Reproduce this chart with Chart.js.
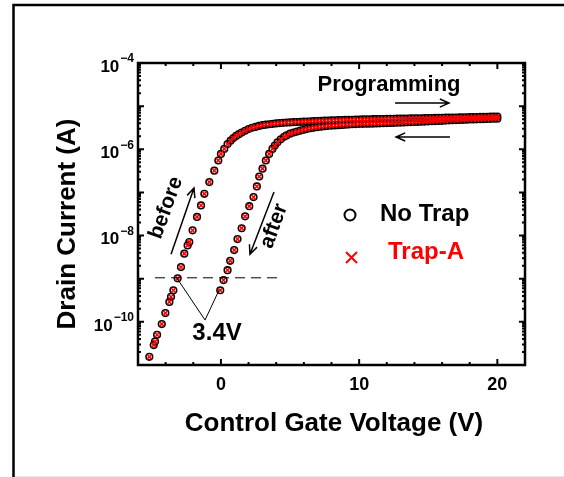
<!DOCTYPE html>
<html>
<head>
<meta charset="utf-8">
<script src="https://cdn.jsdelivr.net/npm/chart.js@4.4.1/dist/chart.umd.min.js"></script>
<style>
  html, body { margin: 0; padding: 0; background: #fff; }
  canvas { display: block; }
</style>
</head>
<body>
<canvas id="chart" width="564" height="477"></canvas>
<script>
// forward sweep, before programming (gate voltage V, drain current A)
const vBefore = [
  -5.18, -4.86, -4.77, -4.62, -4.28, -4.02, -3.73, -3.61, -3.44, -3.13,
  -2.89, -2.65, -2.41, -2.29, -2.05, -1.73, -1.44, -1.20, -0.84, -0.48,
  -0.19, 0.00, 0.24, 0.48, 0.70, 0.90, 1.10, 1.30, 1.50, 1.75,
  2.00, 2.25, 2.50, 2.75, 3.00, 3.25, 3.50, 3.75,
  4.00, 4.25, 4.50, 4.75, 5.00, 5.25, 5.50, 5.75, 6.00, 6.25, 6.50, 6.75,
  7.00, 7.25, 7.50, 7.75, 8.00, 8.25, 8.50, 8.75, 9.00, 9.25, 9.50, 9.75,
  10.00, 10.25, 10.50, 10.75, 11.00, 11.25, 11.50, 11.75, 12.00, 12.25, 12.50, 12.75,
  13.00, 13.25, 13.50, 13.75, 14.00, 14.25, 14.50, 14.75, 15.00, 15.25, 15.50, 15.75,
  16.00, 16.25, 16.50, 16.75, 17.00, 17.25, 17.50, 17.75, 18.00, 18.25, 18.50, 18.75,
  19.00, 19.25, 19.50, 19.75, 20.00
];
const iBefore = [
  1.55e-11, 2.9e-11, 3.5e-11, 5.0e-11, 8.9e-11, 1.6e-10, 2.9e-10, 3.8e-10, 5.4e-10, 1.02e-9,
  1.86e-9, 3.8e-9, 5.9e-9, 7.1e-9, 1.32e-8, 2.7e-8, 5.0e-8, 9.3e-8, 1.74e-7, 3.2e-7,
  5.5e-7, 7.8e-7, 1.02e-6, 1.32e-6, 1.58e-6, 1.82e-6, 2.04e-6, 2.24e-6, 2.45e-6, 2.69e-6,
  2.95e-6, 3.16e-6, 3.30e-6, 3.47e-6, 3.63e-6, 3.72e-6, 3.80e-6, 3.90e-6,
  3.98e-6, 4.05e-6, 4.10e-6, 4.16e-6, 4.20e-6, 4.25e-6, 4.29e-6, 4.33e-6, 4.37e-6, 4.41e-6, 4.45e-6, 4.49e-6,
  4.53e-6, 4.57e-6, 4.60e-6, 4.64e-6, 4.67e-6, 4.70e-6, 4.73e-6, 4.76e-6, 4.79e-6, 4.82e-6, 4.84e-6, 4.87e-6,
  4.90e-6, 4.92e-6, 4.94e-6, 4.96e-6, 4.98e-6, 5.00e-6, 5.02e-6, 5.04e-6, 5.06e-6, 5.08e-6, 5.10e-6, 5.11e-6,
  5.13e-6, 5.15e-6, 5.17e-6, 5.19e-6, 5.21e-6, 5.22e-6, 5.24e-6, 5.26e-6, 5.28e-6, 5.30e-6, 5.32e-6, 5.35e-6,
  5.37e-6, 5.39e-6, 5.41e-6, 5.43e-6, 5.46e-6, 5.48e-6, 5.50e-6, 5.52e-6, 5.55e-6, 5.57e-6, 5.59e-6, 5.62e-6,
  5.64e-6, 5.66e-6, 5.69e-6, 5.72e-6, 5.75e-6
];

// reverse sweep, after programming
const vAfter = [
  20.00, 19.75, 19.50, 19.25, 19.00, 18.75, 18.50, 18.25, 18.00, 17.75, 17.50, 17.25,
  17.00, 16.75, 16.50, 16.25, 16.00, 15.75, 15.50, 15.25, 15.00, 14.75, 14.50, 14.25,
  14.00, 13.75, 13.50, 13.25, 13.00, 12.75, 12.50, 12.25, 12.00, 11.75, 11.50, 11.25,
  11.00, 10.75, 10.50, 10.25, 10.00, 9.75, 9.50, 9.25, 9.00, 8.75, 8.50, 8.25,
  8.00, 7.75, 7.50, 7.25, 7.00, 6.75, 6.50, 6.25, 6.00, 5.75, 5.50, 5.25, 5.00,
  4.75, 4.57, 4.33, 4.09, 3.90, 3.73, 3.49, 3.25, 3.01, 2.77, 2.60, 2.36,
  2.05, 1.75, 1.50, 1.20, 0.96, 0.67, 0.48, 0.19, -0.05
];
const iAfter = [
  5.13e-6, 5.10e-6, 5.07e-6, 5.04e-6, 5.02e-6, 4.99e-6, 4.96e-6, 4.93e-6, 4.90e-6, 4.86e-6, 4.83e-6, 4.80e-6,
  4.76e-6, 4.73e-6, 4.70e-6, 4.63e-6, 4.57e-6, 4.54e-6, 4.50e-6, 4.47e-6, 4.44e-6, 4.40e-6, 4.37e-6, 4.33e-6,
  4.30e-6, 4.27e-6, 4.23e-6, 4.20e-6, 4.17e-6, 4.14e-6, 4.11e-6, 4.08e-6, 4.05e-6, 4.02e-6, 4.00e-6, 3.97e-6,
  3.95e-6, 3.93e-6, 3.91e-6, 3.90e-6, 3.89e-6, 3.85e-6, 3.80e-6, 3.75e-6, 3.70e-6, 3.66e-6, 3.62e-6, 3.58e-6,
  3.55e-6, 3.49e-6, 3.42e-6, 3.35e-6, 3.28e-6, 3.18e-6, 3.09e-6, 2.98e-6, 2.85e-6, 2.72e-6, 2.58e-6, 2.45e-6, 2.30e-6,
  2.10e-6, 1.95e-6, 1.70e-6, 1.45e-6, 1.22e-6, 1.02e-6, 7.8e-7, 5.5e-7, 3.55e-7, 2.34e-7, 1.38e-7, 7.8e-8,
  4.8e-8, 2.8e-8, 1.48e-8, 8.3e-9, 4.6e-9, 2.6e-9, 1.58e-9, 9.3e-10, 5.4e-10
];

// Vth read-off guide: dashed level and the "V" pointer
const guideV = [-4.77, 4.06];
const guideI = [1.05e-9, 1.05e-9];
const pointerV = [-3.2, -1.15, -0.12];
const pointerI = [1.05e-9, 1.1e-10, 5.6e-10];

const xTickLabels = [0, 10, 20];
const yDecades = [1e-11, 1e-10, 1e-9, 1e-8, 1e-7, 1e-6, 1e-5, 1e-4];
const yLabelValues = [1e-4, 1e-6, 1e-8, 1e-10];
const yLabelExps = ["\u22124", "\u22126", "\u22128", "\u221210"];
const seriesNames = ["No Trap", "Trap-A"];

const FONT = '"Liberation Sans", Arial, Helvetica, sans-serif';
const RED = "#ff0000";

const pts = (xs, ys) => xs.map((x, i) => ({ x: x, y: ys[i] }));

const arrow = (ctx, x1, y1, x2, y2) => {
  const a = Math.atan2(y2 - y1, x2 - x1);
  const h = 10;
  ctx.beginPath();
  ctx.moveTo(x1, y1);
  ctx.lineTo(x2, y2);
  ctx.moveTo(x2 - h * Math.cos(a - 0.42), y2 - h * Math.sin(a - 0.42));
  ctx.lineTo(x2, y2);
  ctx.lineTo(x2 - h * Math.cos(a + 0.42), y2 - h * Math.sin(a + 0.42));
  ctx.stroke();
};

const decor = {
  id: "decor",
  beforeDraw(chart) {
    const ctx = chart.ctx;
    ctx.save();
    ctx.fillStyle = "#fff";
    ctx.fillRect(0, 0, chart.width, chart.height);
    ctx.strokeStyle = "#000";
    ctx.lineWidth = 2.5;
    ctx.beginPath();
    ctx.moveTo(13.5, chart.height);
    ctx.lineTo(13.5, 5);
    ctx.lineTo(chart.width, 5);
    ctx.stroke();
    ctx.strokeStyle = "#e6e6e6";
    ctx.lineWidth = 1;
    ctx.beginPath();
    ctx.moveTo(15, 476.5);
    ctx.lineTo(chart.width, 476.5);
    ctx.stroke();
    ctx.restore();
  },
  afterDraw(chart) {
    const ctx = chart.ctx;
    const { left, right, top, bottom } = chart.chartArea;
    const xs = chart.scales.x;
    const ys = chart.scales.y;
    const P = (v, a) => [xs.getPixelForValue(v), ys.getPixelForValue(a)];
    ctx.save();

    // axes box
    ctx.strokeStyle = "#000";
    ctx.lineWidth = 2.5;
    ctx.strokeRect(left, top, right - left, bottom - top);

    // inward ticks, mirrored
    ctx.lineWidth = 2;
    ctx.beginPath();
    xs.ticks.forEach((t) => {
      const x = xs.getPixelForValue(t.value);
      const len = xTickLabels.includes(t.value) ? 6 : 3;
      ctx.moveTo(x, bottom);
      ctx.lineTo(x, bottom - len);
      ctx.moveTo(x, top);
      ctx.lineTo(x, top + len);
    });
    yDecades.forEach((d, k) => {
      const y = ys.getPixelForValue(d);
      ctx.moveTo(left, y);
      ctx.lineTo(left + 6, y);
      ctx.moveTo(right, y);
      ctx.lineTo(right - 6, y);
      if (k < yDecades.length - 1) {
        for (let m = 2; m < 10; m++) {
          const ym = ys.getPixelForValue(m * d);
          ctx.moveTo(left, ym);
          ctx.lineTo(left + 3, ym);
          ctx.moveTo(right, ym);
          ctx.lineTo(right - 3, ym);
        }
      }
    });
    ctx.stroke();

    // y tick labels 10^n
    ctx.fillStyle = "#000";
    ctx.textBaseline = "middle";
    yLabelValues.forEach((v, i) => {
      const y = ys.getPixelForValue(v);
      ctx.font = "bold 12px " + FONT;
      const w = ctx.measureText(yLabelExps[i]).width;
      ctx.textAlign = "left";
      ctx.fillText(yLabelExps[i], left - 4 - w, y - 4);
      ctx.font = "bold 17px " + FONT;
      ctx.textAlign = "right";
      ctx.fillText("10", left - 5 - w, y + 4);
    });

    // axis titles
    ctx.font = "bold 26px " + FONT;
    ctx.textAlign = "center";
    ctx.fillText("Control Gate Voltage (V)", 334, 424);
    ctx.save();
    ctx.translate(68, 224);
    ctx.rotate(-Math.PI / 2);
    ctx.fillText("Drain Current (A)", 0, 0);
    ctx.restore();

    // sweep direction
    ctx.font = "bold 22px " + FONT;
    let [tx, ty] = P(12.16, 3.1e-5);
    ctx.fillText("Programming", tx, ty);
    ctx.lineWidth = 1.5;
    let [ax, ay] = P(12.6, 1.18e-5);
    let [bx, by] = P(16.5, 1.18e-5);
    arrow(ctx, ax, ay, bx, by);
    [ax, ay] = P(16.57, 1.93e-6);
    [bx, by] = P(12.67, 1.93e-6);
    arrow(ctx, ax, ay, bx, by);

    // before / after labels
    [ax, ay] = P(-3.61, 3.7e-9);
    [bx, by] = P(-1.95, 1.26e-7);
    arrow(ctx, ax, ay, bx, by);
    [ax, ay] = P(3.84, 1.02e-7);
    [bx, by] = P(2.10, 3.7e-9);
    arrow(ctx, ax, ay, bx, by);
    ctx.font = "bold 21px " + FONT;
    [tx, ty] = P(-3.97, 4.4e-8);
    ctx.save();
    ctx.translate(tx, ty);
    ctx.rotate(-70 * Math.PI / 180);
    ctx.fillText("before", 0, 0);
    ctx.restore();
    [tx, ty] = P(3.84, 1.66e-8);
    ctx.save();
    ctx.translate(tx, ty);
    ctx.rotate(-70 * Math.PI / 180);
    ctx.fillText("after", 0, 0);
    ctx.restore();

    ctx.font = "bold 24px " + FONT;
    [tx, ty] = P(-0.28, 5.5e-11);
    ctx.fillText("3.4V", tx, ty);

    // legend
    ctx.lineWidth = 2;
    ctx.strokeStyle = "#000";
    ctx.beginPath();
    ctx.arc(350, 215, 5.5, 0, Math.PI * 2);
    ctx.stroke();
    ctx.strokeStyle = RED;
    ctx.beginPath();
    ctx.moveTo(346, 252);
    ctx.lineTo(357, 263);
    ctx.moveTo(357, 252);
    ctx.lineTo(346, 263);
    ctx.stroke();
    ctx.font = "bold 24px " + FONT;
    ctx.textAlign = "left";
    ctx.fillStyle = "#000";
    ctx.fillText(seriesNames[0], 380, 214);
    ctx.fillStyle = RED;
    ctx.fillText(seriesNames[1], 388, 252);

    ctx.restore();
  },
};

const circleStyle = {
  pointStyle: "circle",
  pointRadius: 3.3,
  pointBorderWidth: 1.6,
  pointBorderColor: "#000",
  pointBackgroundColor: "rgba(0,0,0,0)",
  showLine: false,
  order: 3,
};
const crossStyle = {
  pointStyle: "crossRot",
  pointRadius: 3.3,
  pointBorderWidth: 1.5,
  pointBorderColor: RED,
  showLine: false,
  order: 2,
};

new Chart(document.getElementById("chart"), {
  type: "scatter",
  data: {
    datasets: [
      { label: seriesNames[0], data: pts(vBefore, iBefore), ...circleStyle },
      { label: seriesNames[0], data: pts(vAfter, iAfter), ...circleStyle },
      { label: seriesNames[1], data: pts(vBefore, iBefore), ...crossStyle },
      { label: seriesNames[1], data: pts(vAfter, iAfter), ...crossStyle },
      {
        data: pts(guideV, guideI),
        showLine: true,
        borderColor: "#000",
        borderWidth: 1,
        borderDash: [10, 6],
        pointRadius: 0,
        order: 1,
      },
      {
        data: pts(pointerV, pointerI),
        showLine: true,
        borderColor: "#000",
        borderWidth: 1,
        pointRadius: 0,
        order: 1,
      },
    ],
  },
  options: {
    responsive: false,
    animation: false,
    events: [],
    layout: { padding: { left: 0, top: 63, right: 39, bottom: 0 } },
    plugins: {
      legend: { display: false },
      tooltip: { enabled: false },
    },
    scales: {
      x: {
        type: "linear",
        min: -6,
        max: 22,
        grid: { display: false, drawTicks: false },
        border: { display: false },
        afterFit: (s) => { s.height = 112; },
        ticks: {
          stepSize: 2,
          autoSkip: false,
          maxRotation: 0,
          padding: 9,
          color: "#000",
          font: { size: 18, weight: "bold", family: FONT },
          callback: (v) => (xTickLabels.includes(v) ? String(v) : ""),
        },
      },
      y: {
        type: "logarithmic",
        min: 1e-11,
        max: 1e-4,
        grid: { display: false, drawTicks: false },
        border: { display: false },
        ticks: { display: false },
        afterFit: (s) => { s.width = 138; },
      },
    },
  },
  plugins: [decor],
});
</script>
</body>
</html>
